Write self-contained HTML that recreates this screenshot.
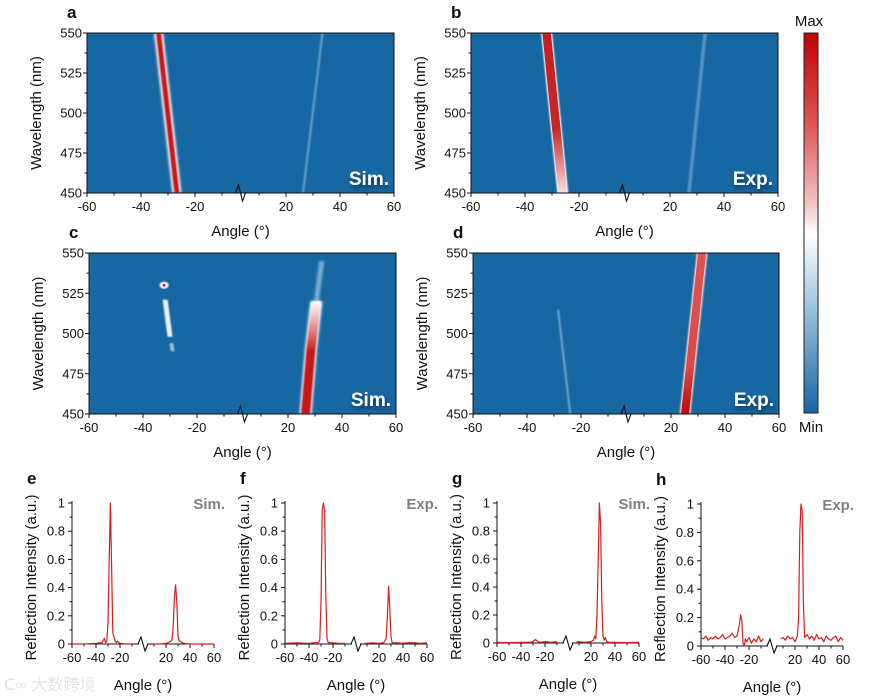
<!DOCTYPE html>
<html><head><meta charset="utf-8"><style>
body{margin:0;background:#fff;}
svg{display:block;font-family:"Liberation Sans","Noto Sans CJK SC",sans-serif;}
</style></head><body>
<svg id="fig" width="870" height="700" viewBox="0 0 870 700" xmlns="http://www.w3.org/2000/svg">
<defs>
<filter id="blur1" x="-50%" y="-10%" width="200%" height="120%"><feGaussianBlur stdDeviation="1.2"/></filter>
<filter id="blur2" x="-50%" y="-10%" width="200%" height="120%"><feGaussianBlur stdDeviation="0.8"/></filter>
<filter id="shadow" x="-20%" y="-20%" width="150%" height="170%"><feDropShadow dx="1" dy="3" stdDeviation="2" flood-color="#000" flood-opacity="0.5"/></filter>
<linearGradient id="cbar" x1="0" y1="0" x2="0" y2="1">
<stop offset="0" stop-color="#c00000"/><stop offset="0.25" stop-color="#dd5a5a"/><stop offset="0.45" stop-color="#f3c4c4"/><stop offset="0.53" stop-color="#ffffff"/><stop offset="0.7" stop-color="#a9cbe2"/><stop offset="1" stop-color="#1765a2"/>
</linearGradient>
<linearGradient id="gradB" x1="0" y1="0" x2="0" y2="1">
<stop offset="0" stop-color="#c41e1e"/><stop offset="0.6" stop-color="#c82828"/><stop offset="0.85" stop-color="#e89a9a"/><stop offset="1" stop-color="#fae0e0"/>
</linearGradient>
<linearGradient id="gradD" x1="0" y1="0" x2="0" y2="1">
<stop offset="0" stop-color="#dc5454"/><stop offset="0.7" stop-color="#d84a4a"/><stop offset="0.85" stop-color="#cc2a2a"/><stop offset="1" stop-color="#c00808"/>
</linearGradient>
<linearGradient id="gradC" x1="0" y1="0" x2="0" y2="1">
<stop offset="0" stop-color="#ffffff"/><stop offset="0.2" stop-color="#e8a0a0"/><stop offset="0.45" stop-color="#c81818"/><stop offset="1" stop-color="#c81818"/>
</linearGradient>
</defs>
</svg>
<script>
// ---------- Heatmap band data (angle in degrees vs wavelength in nm) ----------
const bandWl = [450, 550];
const aRedAngle = [-26.7, -33.5];
const aFaintAngle = [26.3, 33.5];
const bRedAngle = [-26, -32];
const bFaintAngle = [27, 33];
const cRedWl = [450, 490, 520];
const cRedAngle = [26.5, 28.5, 30.5];
const cGlowWl = [520, 545];
const cGlowAngle = [30.5, 32.5];
const cSpotWl = [530];
const cSpotAngle = [-32.2];
const cDashWl = [521, 498];
const cDashAngle = [-31.8, -30];
const cDotsWl = [494, 489];
const cDotsAngle = [-29.5, -29];
const dRedAngle = [25.2, 31.5];
const dFaintWl = [450, 515];
const dFaintAngle = [-24, -28.5];

// ---------- Line plot data ----------
const eLeftA = [-60,-50,-40,-35,-33,-32,-31,-30,-29,-28,-27,-26,-25,-24,-23,-22,-20,-15,-10];
const eLeftV = [0,0,0.005,0.01,0.04,0.01,0.02,0.15,0.6,1,0.55,0.08,0.05,0.02,0.01,0.02,0.005,0,0];
const eRightA = [10,15,20,22,24,25,26,27,28,29,30,31,32,33,35,40,50,60];
const eRightV = [0,0,0.005,0.01,0.02,0.03,0.12,0.33,0.42,0.3,0.06,0.02,0.02,0.01,0.005,0,0,0];
const fLeftA = [-60,-50,-40,-35,-32,-31,-30,-29,-28,-27,-26,-25,-24,-22,-20,-15,-10];
const fLeftV = [0.005,0.008,0.005,0.01,0.01,0.03,0.3,0.95,1,0.95,0.35,0.04,0.01,0.01,0.008,0.005,0.005];
const fRightA = [8,15,20,24,26,27,28,29,30,31,32,35,40,45,50,55,60];
const fRightV = [0.005,0.008,0.005,0.01,0.04,0.2,0.41,0.25,0.05,0.01,0.01,0.008,0.005,0.01,0.008,0.005,0.008];
const gLeftA = [-60,-50,-40,-32,-30,-28,-26,-24,-20,-15,-10];
const gLeftV = [0.005,0.003,0.005,0.005,0.01,0.025,0.01,0.005,0.01,0.005,0.01];
const gRightA = [8,15,20,22,23,24,25,26,27,28,29,30,31,32,33,35,40,50,60];
const gRightV = [0.01,0.005,0.01,0.02,0.05,0.03,0.2,0.6,1,0.85,0.3,0.05,0.02,0.04,0.01,0.005,0.005,0.003,0.005];
const hLeftA = [-60,-58,-56,-54,-52,-50,-48,-46,-44,-42,-40,-38,-36,-34,-32,-30,-28,-27,-26,-25,-24,-23,-22,-20,-18,-16,-14,-12,-10,-8];
const hLeftV = [0.06,0.05,0.07,0.04,0.06,0.05,0.07,0.05,0.06,0.08,0.05,0.06,0.07,0.09,0.06,0.07,0.15,0.22,0.18,0.02,0,0.05,0.03,0.06,0.02,0.05,0.03,0.07,0.03,0.05];
const hRightA = [8,10,12,14,16,18,20,22,23,24,25,26,27,28,30,32,34,36,38,40,42,44,46,48,50,52,54,56,58,60];
const hRightV = [0.05,0.06,0.04,0.07,0.05,0.06,0.03,0.07,0.2,0.8,1,0.95,0.3,0.06,0.08,0.05,0.07,0.04,0.08,0.05,0.06,0.03,0.07,0.05,0.04,0.06,0.07,0.03,0.06,0.04];

const xTickVals = [-60,-40,-20,20,40,60];
const xMinorVals = [-50,-30,-10,10,30,50];
const wlTicks = [450,475,500,525,550];
const wlMinor = [462.5,487.5,512.5,537.5];
const yTicks = [0,0.2,0.4,0.6,0.8,1];
const yTickLabels = ["0","0.2","0.4","0.6","0.8","1"];

const NS = "http://www.w3.org/2000/svg";
const svg = document.getElementById('fig');
function el(tag, attrs, parent, text){
  const e = document.createElementNS(NS, tag);
  for (const k in attrs) e.setAttribute(k, attrs[k]);
  if (text !== undefined) e.textContent = text;
  (parent || svg).appendChild(e);
  return e;
}
function mkX(x0, x1, s){ return a => a < 0 ? x0 + (a + 60) * s : x1 - (60 - a) * s; }

// ---------- Heatmaps ----------
function heatmap(id, label, tag, x0, x1, y0, y1){
  const g = el('g', {});
  
  
  const X = mkX(x0, x1, 2.7);
  const Y = w => y0 + (550 - w) / 100 * (y1 - y0);
  const bg = el('rect', {x:x0, y:y0, width:x1-x0, height:y1-y0, fill:'#1767a2'}, g);
  
  
  const clipId = 'clip' + id;
  const cp = el('clipPath', {id:clipId}, g);
  el('rect', {x:x0, y:y0, width:x1-x0, height:y1-y0}, cp);
  const layer = el('g', {'clip-path':'url(#'+clipId+')'}, g);
  const p = {g, layer, X, Y, x0, x1, y0, y1};
  el('rect', {x:x0, y:y0, width:x1-x0, height:y1-y0, fill:'none', stroke:'#111', 'stroke-width':1}, g);
  xTickVals.forEach(v => {
    el('line', {x1:X(v), x2:X(v), y1:y1, y2:y1+4, stroke:'#111'}, g);
    const t = el('text', {x:X(v), y:y1+18, 'font-size':13, 'text-anchor':'middle', fill:'#111'}, g, String(v));
    
    
  });
  xMinorVals.forEach(v => el('line', {x1:X(v), x2:X(v), y1:y1, y2:y1+2.5, stroke:'#111'}, g));
  const bx = (X(-10) + X(10)) / 2;
  el('path', {d:`M${bx-5},${y1} L${bx-2},${y1-8} L${bx+2},${y1+8} L${bx+5},${y1}`, fill:'none', stroke:'#111', 'stroke-width':1.1}, g);
  wlTicks.forEach(w => {
    el('line', {x1:x0-4, x2:x0, y1:Y(w), y2:Y(w), stroke:'#111'}, g);
    const t = el('text', {x:x0-5, y:Y(w)+4.5, 'font-size':13, 'text-anchor':'end', fill:'#111'}, g, String(w));
    
    
  });
  wlMinor.forEach(w => el('line', {x1:x0-2.5, x2:x0, y1:Y(w), y2:Y(w), stroke:'#111'}, g));
  const xt = el('text', {x:(x0+x1)/2, y:y1+43, 'font-size':15, 'text-anchor':'middle', fill:'#111'}, g, 'Angle (°)');
  
  
  const yt = el('text', {x:0, y:0, 'font-size':15, 'text-anchor':'middle', fill:'#111', transform:`translate(${x0-46},${(y0+y1)/2}) rotate(-90)`}, g, 'Wavelength (nm)');
  
  
  const pl = el('text', {x:x0-20, y:y0-15, 'font-size':17, 'font-weight':'bold', fill:'#111'}, g, label);
  
  
  const tg = el('text', {x:x1-5, y:y1-8, 'font-size':19, 'font-weight':'bold', 'text-anchor':'end', fill:'#fff', filter:'url(#shadow)'}, g, tag);
  
  
  return p;
}
function bandPoly(p, wls, angs, halfW){
  const left = [], right = [];
  for (let i = 0; i < wls.length; i++){
    left.push([p.X(angs[i]) - halfW, p.Y(wls[i])]);
    right.push([p.X(angs[i]) + halfW, p.Y(wls[i])]);
  }
  const pts = left.concat(right.reverse());
  return pts.map(q => q.join(',')).join(' ');
}
function band(p, wls, angs, layers, name){
  layers.forEach(L => {
    const e = el('polygon', {points:bandPoly(p, wls, angs, L.w), fill:L.c, opacity:L.o===undefined?1:L.o, filter:L.f||''}, p.layer);
    
    
  });
}

const pa = heatmap('a', 'a', 'Sim.', 87, 394, 33, 193);
band(pa, bandWl, aRedAngle, [{w:4.5,c:'#ffffff',f:'url(#blur1)'},{w:2.5,c:'#c81818',f:'url(#blur2)'}], 'sim-red-band');
band(pa, bandWl, aFaintAngle, [{w:1.2,c:'#7fb0d6',o:0.7,f:'url(#blur2)'}], 'sim-faint-band');

const pb = heatmap('b', 'b', 'Exp.', 471, 778, 33, 193);
band(pb, bandWl, bRedAngle, [{w:5.5,c:'#ffffff',f:'url(#blur2)'},{w:4.3,c:'url(#gradB)'}], 'exp-red-band');
band(pb, bandWl, bFaintAngle, [{w:1.8,c:'#6ea5d0',o:0.7,f:'url(#blur2)'}], 'exp-faint-band');

const pc = heatmap('c', 'c', 'Sim.', 89, 396, 253, 414);
band(pc, cGlowWl, cGlowAngle, [{w:2.5,c:'#a9cde8',o:0.7,f:'url(#blur1)'}], 'sim-upper-glow');
band(pc, cRedWl, cRedAngle, [{w:6,c:'#ffffff',f:'url(#blur1)'},{w:4.5,c:'url(#gradC)',f:'url(#blur2)'}], 'sim-red-band');
band(pc, cDashWl, cDashAngle, [{w:2.5,c:'#e8f2fa',f:'url(#blur2)'}], 'sim-white-dash');
band(pc, cDotsWl, cDotsAngle, [{w:2,c:'#cfe3f2',o:0.7,f:'url(#blur2)'}], 'sim-white-dots');
cSpotWl.forEach((w, i) => {
  const s1 = el('ellipse', {cx:pc.X(cSpotAngle[i]), cy:pc.Y(w), rx:4.5, ry:3.5, fill:'#fff', filter:'url(#blur2)'}, pc.layer);
  
  
  el('circle', {cx:pc.X(cSpotAngle[i]), cy:pc.Y(w), r:1.5, fill:'#d02020'}, pc.layer);
});

const pd = heatmap('d', 'd', 'Exp.', 473, 779, 253, 414);
band(pd, bandWl, dRedAngle, [{w:5.5,c:'#f6d0d0',f:'url(#blur2)'},{w:4,c:'url(#gradD)'}], 'exp-red-band');
band(pd, dFaintWl, dFaintAngle, [{w:1,c:'#cfe3f2',o:0.5,f:'url(#blur2)'}], 'exp-faint-speckle');

// ---------- Colorbar ----------
const cb = el('rect', {x:804, y:33, width:14, height:380, fill:'url(#cbar)', stroke:'#222', 'stroke-width':1});


const cmx = el('text', {x:809, y:26, 'font-size':15, 'text-anchor':'middle', fill:'#111'}, svg, 'Max');


const cmn = el('text', {x:811, y:432, 'font-size':15, 'text-anchor':'middle', fill:'#111'}, svg, 'Min');



// ---------- Line plots ----------
function linePlot(id, label, tag, x0, x1, yTop, yZero, segs){
  const g = el('g', {});
  
  
  const X = mkX(x0, x1, 1.2);
  const Y = v => yZero - v * (yZero - yTop);
  el('line', {x1:x0, x2:x0, y1:yTop-2, y2:yZero, stroke:'#111'}, g);
  el('line', {x1:x0, x2:x1, y1:yZero, y2:yZero, stroke:'#111'}, g);
  yTicks.forEach((v, i) => {
    el('line', {x1:x0-4, x2:x0, y1:Y(v), y2:Y(v), stroke:'#111'}, g);
    const t = el('text', {x:x0-7, y:Y(v)+4.5, 'font-size':13, 'text-anchor':'end', fill:'#111'}, g, yTickLabels[i]);
    
    
  });
  [0.1,0.3,0.5,0.7,0.9].forEach(v => el('line', {x1:x0-2.5, x2:x0, y1:Y(v), y2:Y(v), stroke:'#111'}, g));
  xTickVals.forEach(v => {
    el('line', {x1:X(v), x2:X(v), y1:yZero, y2:yZero+4, stroke:'#111'}, g);
    const t = el('text', {x:X(v), y:yZero+18, 'font-size':13, 'text-anchor':'middle', fill:'#111'}, g, String(v));
    
    
  });
  xMinorVals.forEach(v => el('line', {x1:X(v), x2:X(v), y1:yZero, y2:yZero+2.5, stroke:'#111'}, g));
  const bx = (X(-10) + X(10)) / 2;
  el('line', {x1:bx-4, x2:bx+4, y1:yZero, y2:yZero, stroke:'#fff', 'stroke-width':2}, g);
  el('path', {d:`M${bx-5},${yZero} L${bx-2},${yZero-7} L${bx+2},${yZero+7} L${bx+5},${yZero}`, fill:'none', stroke:'#111', 'stroke-width':1.1}, g);
  segs.forEach(([A, V]) => {
    const d = A.map((a, i) => (i ? 'L' : 'M') + X(a).toFixed(1) + ',' + Y(V[i]).toFixed(1)).join(' ');
    const pth = el('path', {d, fill:'none', stroke:'#d81e1e', 'stroke-width':1.2, 'stroke-linejoin':'round'}, g);
    
    
  });
  const xt = el('text', {x:(x0+x1)/2, y:yZero+46, 'font-size':15, 'text-anchor':'middle', fill:'#111'}, g, 'Angle (°)');
  
  
  const yt = el('text', {x:0, y:0, 'font-size':15, 'text-anchor':'middle', fill:'#111', transform:`translate(${x0-36},${(yTop+yZero)/2+4}) rotate(-90)`}, g, 'Reflection Intensity (a.u.)');
  
  
  const pl = el('text', {x:x0-45, y:yTop-19, 'font-size':17, 'font-weight':'bold', fill:'#111'}, g, label);
  
  
  const tg = el('text', {x:x1+11, y:yTop+6, 'font-size':15, 'font-weight':'bold', 'text-anchor':'end', fill:'#808080'}, g, tag);
  
  
}
linePlot('e', 'e', 'Sim.', 72, 214, 503, 644, [[eLeftA, eLeftV], [eRightA, eRightV]]);
linePlot('f', 'f', 'Exp.', 285, 427, 503, 644, [[fLeftA, fLeftV], [fRightA, fRightV]]);
linePlot('g', 'g', 'Sim.', 497, 639, 503, 643, [[gLeftA, gLeftV], [gRightA, gRightV]]);
linePlot('h', 'h', 'Exp.', 701, 843, 504, 646, [[hLeftA, hLeftV], [hRightA, hRightV]]);

const wm = el('text', {x:4, y:690, 'font-size':16, fill:'#e4e4e4'}, svg, 'ᑕ∞ 大数跨境');


</script>
</body></html>
